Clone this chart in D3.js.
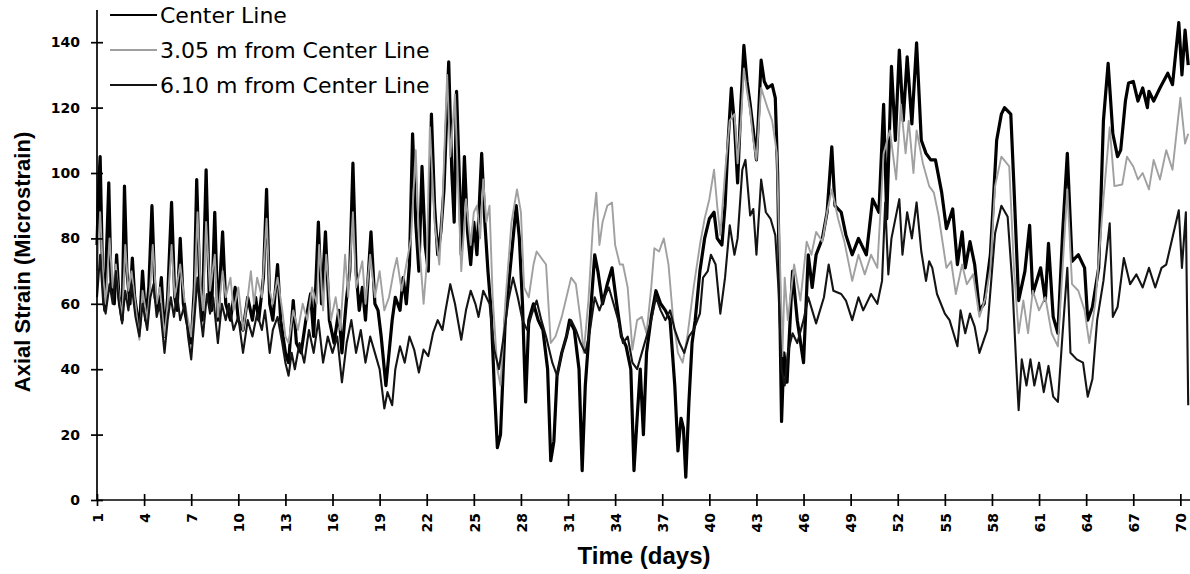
<!DOCTYPE html>
<html>
<head>
<meta charset="utf-8">
<script src="https://cdn.jsdelivr.net/npm/d3@7"></script>
<style>
  body { margin: 0; background: #fff; }
  svg { display: block; }
  .tick text { font-family: "DejaVu Sans", sans-serif; font-weight: bold; font-size: 14px; fill: #000; }
  .axis path, .axis line { stroke: #000; stroke-width: 1.7; }
</style>
</head>
<body>
<svg width="1190" height="574"></svg>
<script>
// values: [day, microstrain]
var centerLine = [
  [1.0, 78], [1.1, 95], [1.2, 105], [1.35, 70], [1.5, 58], [1.6, 75], [1.75, 97], [1.9, 65], [2.1, 60], [2.25, 75],
  [2.4, 62], [2.6, 55], [2.75, 96], [2.9, 70], [3.1, 60], [3.25, 74], [3.4, 62], [3.7, 52], [3.9, 70], [4.1, 55],
  [4.3, 65], [4.5, 90], [4.7, 62], [4.9, 58], [5.1, 68], [5.3, 50], [5.5, 62], [5.75, 91], [5.95, 62], [6.1, 58],
  [6.3, 80], [6.5, 60], [6.7, 55], [7.0, 48], [7.2, 65], [7.35, 98], [7.55, 65], [7.7, 55], [7.95, 101], [8.15, 62],
  [8.3, 58], [8.5, 88], [8.7, 55], [9.0, 82], [9.2, 60], [9.5, 55], [9.8, 65], [10.0, 55], [10.3, 52], [10.6, 62],
  [10.9, 55], [11.1, 62], [11.3, 55], [11.6, 68], [11.8, 95], [12.0, 60], [12.2, 55], [12.5, 72], [12.7, 55], [13.0, 45],
  [13.2, 42], [13.5, 61], [13.7, 48], [14.0, 45], [14.3, 55], [14.6, 63], [14.8, 50], [15.1, 85], [15.3, 60], [15.55, 82],
  [15.8, 55], [16.1, 48], [16.4, 58], [16.6, 45], [16.9, 62], [17.1, 70], [17.3, 103], [17.5, 70], [17.7, 58], [17.9, 65],
  [18.1, 55], [18.45, 82], [18.7, 60], [18.9, 58], [19.1, 50], [19.4, 35], [19.6, 45], [19.8, 55], [20.0, 62], [20.3, 58],
  [20.5, 68], [20.7, 60], [20.9, 72], [21.1, 112], [21.3, 85], [21.5, 70], [21.7, 102], [21.9, 78], [22.1, 70], [22.3, 118],
  [22.5, 90], [22.7, 75], [22.9, 82], [23.1, 95], [23.4, 134], [23.6, 100], [23.75, 85], [23.9, 125], [24.1, 95], [24.2, 75],
  [24.4, 105], [24.6, 82], [24.8, 72], [25.0, 85], [25.2, 75], [25.5, 106], [25.7, 85], [25.9, 70], [26.1, 58], [26.3, 35],
  [26.5, 16], [26.7, 20], [27.0, 55], [27.3, 70], [27.7, 90], [27.9, 80], [28.1, 60], [28.3, 30], [28.5, 55], [28.8, 60],
  [29.1, 55], [29.4, 52], [29.7, 40], [29.9, 12], [30.1, 18], [30.3, 38], [30.6, 45], [30.9, 50], [31.1, 55], [31.4, 52],
  [31.7, 40], [31.9, 9], [32.1, 35], [32.4, 55], [32.7, 75], [32.9, 70], [33.2, 60], [33.5, 66], [33.8, 71], [34.1, 60],
  [34.4, 50], [34.7, 47], [35.0, 40], [35.2, 9], [35.4, 25], [35.6, 40], [35.8, 20], [36.0, 45], [36.3, 56], [36.6, 64],
  [36.9, 60], [37.2, 58], [37.5, 55], [37.8, 35], [38.0, 15], [38.2, 25], [38.35, 22], [38.5, 7], [38.7, 30], [38.9, 48],
  [39.1, 55], [39.4, 70], [39.7, 80], [40.0, 86], [40.3, 88], [40.5, 80], [40.8, 78], [41.0, 90], [41.2, 110], [41.4, 126],
  [41.6, 115], [41.8, 97], [42.0, 120], [42.2, 139], [42.4, 128], [42.6, 121], [42.8, 113], [43.0, 104], [43.3, 134.5], [43.5, 128],
  [43.7, 126], [44.0, 127], [44.2, 123], [44.35, 100], [44.45, 70], [44.6, 24], [44.75, 45], [44.95, 36], [45.3, 70], [45.6, 55],
  [46.0, 42], [46.3, 75], [46.55, 65], [46.8, 75], [47.2, 80], [47.5, 88], [47.8, 108], [48.0, 90], [48.4, 88], [48.7, 81],
  [49.1, 75], [49.5, 80], [50.0, 75], [50.4, 92], [50.8, 88], [51.1, 121], [51.3, 86], [51.6, 132.6], [51.85, 110], [52.1, 137.6],
  [52.35, 116], [52.6, 135.5], [52.9, 115], [53.2, 139.8], [53.5, 110], [53.8, 106], [54.1, 104], [54.4, 104], [54.8, 94], [55.1, 83],
  [55.5, 89], [55.8, 72], [56.1, 82], [56.3, 71], [56.6, 79], [56.9, 72], [57.2, 58], [57.5, 60], [57.9, 75], [58.3, 110],
  [58.6, 118], [58.8, 120], [59.2, 118], [59.4, 96], [59.7, 61], [60.1, 70], [60.4, 84], [60.6, 63], [61.1, 71], [61.4, 61],
  [61.6, 78.5], [61.9, 56], [62.2, 51], [62.5, 81.6], [62.8, 106], [63.1, 73], [63.5, 75], [63.9, 71], [64.1, 55], [64.4, 59],
  [64.8, 71], [65.1, 116], [65.4, 133.5], [65.7, 112], [66.0, 105], [66.2, 107], [66.5, 122], [66.7, 127.5], [67.0, 128], [67.3, 122],
  [67.6, 126], [67.9, 120], [68.0, 125], [68.3, 122], [68.7, 126], [69.2, 130.5], [69.5, 127], [69.9, 146], [70.1, 130], [70.3, 143.7],
  [70.5, 133]
];

var offset305 = [
  [1.0, 70], [1.2, 88], [1.4, 68], [1.55, 60], [1.8, 80], [2.0, 65], [2.2, 72], [2.4, 62], [2.6, 56], [2.8, 78],
  [3.0, 64], [3.2, 70], [3.45, 60], [3.7, 49], [3.9, 64], [4.2, 55], [4.4, 66], [4.55, 78], [4.8, 60], [5.0, 65],
  [5.3, 50], [5.5, 60], [5.75, 78], [5.95, 62], [6.1, 66], [6.3, 72], [6.6, 60], [6.8, 55], [7.0, 50], [7.2, 62],
  [7.4, 88], [7.6, 65], [7.75, 58], [7.95, 85], [8.2, 64], [8.5, 75], [8.7, 56], [9.0, 70], [9.2, 62], [9.5, 68],
  [9.7, 58], [10.0, 65], [10.3, 52], [10.6, 62], [10.8, 70], [11.0, 60], [11.2, 68], [11.5, 62], [11.8, 86], [12.0, 64],
  [12.2, 60], [12.5, 68], [12.8, 58], [13.0, 50], [13.2, 48], [13.5, 58], [13.8, 52], [14.1, 60], [14.4, 55], [14.7, 65],
  [15.0, 60], [15.15, 78], [15.4, 58], [15.6, 75], [15.9, 55], [16.2, 62], [16.5, 52], [16.8, 75], [17.0, 62], [17.3, 88],
  [17.5, 65], [17.9, 73], [18.1, 60], [18.4, 75], [18.7, 62], [19.0, 70], [19.3, 58], [19.6, 62], [19.9, 70], [20.1, 74],
  [20.4, 64], [20.7, 72], [21.0, 80], [21.3, 107], [21.5, 80], [21.8, 60], [22.0, 72], [22.2, 114], [22.5, 85], [22.8, 72],
  [23.0, 90], [23.3, 130], [23.5, 105], [23.8, 124], [24.0, 96], [24.2, 70], [24.5, 92], [24.8, 78], [25.0, 88], [25.2, 90],
  [25.4, 80], [25.6, 98], [25.8, 85], [26.0, 90], [26.2, 62], [26.5, 40], [26.7, 35], [27.0, 60], [27.4, 85], [27.75, 95],
  [28.0, 88], [28.2, 65], [28.5, 62], [28.8, 72], [29.0, 76], [29.3, 74], [29.6, 72], [29.9, 48], [30.2, 50], [30.6, 56],
  [30.9, 62], [31.2, 68], [31.5, 66], [31.8, 55], [32.0, 45], [32.3, 61], [32.6, 85], [32.8, 94], [33.0, 78], [33.2, 85],
  [33.5, 90], [33.8, 91], [34.0, 78], [34.3, 72], [34.5, 72], [34.8, 65], [35.1, 46], [35.4, 55], [35.7, 56], [36.0, 51],
  [36.3, 65], [36.5, 77], [36.8, 76], [37.1, 80], [37.4, 72], [37.7, 55], [38.0, 45], [38.3, 42], [38.6, 50], [39.0, 65],
  [39.4, 78], [39.7, 86], [40.0, 92], [40.3, 101], [40.5, 90], [40.7, 81], [41.0, 100], [41.3, 116], [41.6, 118], [41.8, 103],
  [42.0, 115], [42.2, 132], [42.4, 125], [42.6, 119], [42.8, 110], [43.0, 104], [43.3, 126], [43.7, 120], [44.0, 116], [44.3, 106],
  [44.45, 80], [44.55, 65], [44.65, 44], [44.8, 68], [45.0, 55], [45.4, 72], [45.8, 61], [46.2, 79], [46.5, 75], [46.8, 82],
  [47.2, 79], [47.5, 88], [47.8, 95], [48.2, 86], [48.6, 79], [49.1, 67], [49.5, 75], [49.9, 69], [50.3, 75], [50.7, 71],
  [51.1, 106], [51.5, 113], [51.9, 98], [52.2, 121], [52.5, 106], [52.7, 116], [53.0, 100], [53.2, 113], [53.6, 103], [54.0, 96],
  [54.3, 94], [54.6, 87], [55.1, 71], [55.4, 73], [55.7, 63], [56.1, 72], [56.4, 66], [56.8, 69], [57.2, 56], [57.6, 62],
  [57.9, 71], [58.2, 96], [58.6, 105], [59.1, 102], [59.4, 71], [59.7, 51], [60.0, 61], [60.3, 51], [60.6, 64], [61.0, 58],
  [61.4, 62], [61.8, 51], [62.2, 47], [62.5, 71], [62.8, 95], [63.1, 66], [63.5, 64], [63.9, 58], [64.2, 48], [64.6, 61],
  [65.1, 92], [65.5, 114], [65.8, 96], [66.3, 96.5], [66.6, 105], [67.0, 102], [67.3, 98], [67.6, 100], [68.0, 95], [68.3, 104],
  [68.7, 98], [69.1, 107], [69.5, 101], [70.0, 123], [70.3, 109], [70.5, 112]
];

var offset610 = [
  [1.0, 62], [1.2, 75], [1.4, 60], [1.55, 57], [1.8, 66], [2.0, 60], [2.2, 70], [2.4, 60], [2.6, 54], [2.8, 64],
  [3.0, 58], [3.2, 66], [3.45, 56], [3.7, 50], [3.9, 60], [4.2, 52], [4.4, 62], [4.6, 66], [4.8, 56], [5.0, 60],
  [5.3, 45], [5.5, 55], [5.7, 62], [5.9, 56], [6.1, 63], [6.3, 55], [6.6, 60], [6.8, 50], [7.0, 43], [7.2, 55],
  [7.4, 68], [7.6, 56], [7.75, 50], [8.0, 63], [8.2, 57], [8.4, 62], [8.7, 48], [8.95, 60], [9.2, 55], [9.4, 60],
  [9.7, 52], [10.0, 56], [10.3, 45], [10.6, 55], [10.9, 50], [11.2, 57], [11.5, 52], [11.7, 58], [12.0, 45], [12.2, 52],
  [12.5, 56], [12.8, 48], [13.0, 42], [13.2, 38], [13.4, 45], [13.6, 40], [13.9, 48], [14.2, 42], [14.5, 52], [14.8, 45],
  [15.1, 55], [15.4, 42], [15.7, 50], [16.0, 45], [16.3, 50], [16.6, 36], [16.9, 48], [17.2, 55], [17.5, 45], [17.8, 52],
  [18.1, 42], [18.4, 50], [18.7, 45], [19.0, 40], [19.3, 28], [19.5, 33], [19.8, 29], [20.0, 40], [20.3, 47], [20.6, 42],
  [20.9, 50], [21.2, 46], [21.5, 39], [21.8, 46], [22.1, 44], [22.4, 51], [22.7, 55], [23.0, 52], [23.2, 58], [23.5, 66],
  [23.8, 60], [24.2, 49], [24.5, 58], [24.8, 64], [25.1, 60], [25.3, 56], [25.6, 64], [26.0, 60], [26.3, 46], [26.6, 40],
  [26.9, 50], [27.2, 61], [27.5, 68], [27.8, 62], [28.1, 55], [28.4, 52], [28.7, 57], [29.0, 61], [29.3, 55], [29.6, 50],
  [30.0, 42], [30.3, 38], [30.6, 45], [30.9, 50], [31.2, 55], [31.5, 52], [31.8, 48], [32.1, 45], [32.4, 52], [32.7, 62],
  [33.0, 58], [33.3, 62], [33.6, 65], [33.9, 60], [34.2, 55], [34.5, 48], [34.8, 50], [35.1, 42], [35.4, 40], [35.7, 45],
  [36.0, 50], [36.3, 55], [36.6, 62], [36.9, 58], [37.2, 55], [37.5, 58], [37.8, 52], [38.1, 48], [38.4, 45], [38.7, 50],
  [39.0, 52], [39.4, 57], [39.6, 68], [39.9, 70], [40.1, 75], [40.4, 72], [40.7, 57], [41.0, 68], [41.3, 84], [41.6, 75],
  [41.8, 80], [42.1, 101], [42.3, 104], [42.6, 87], [42.8, 89], [43.0, 75], [43.3, 98], [43.6, 88], [43.9, 86], [44.2, 81],
  [44.4, 65], [44.6, 40], [44.8, 35], [45.0, 45], [45.3, 51], [45.6, 48], [46.0, 55], [46.3, 62], [46.8, 54], [47.3, 62],
  [47.6, 72], [47.9, 64], [48.4, 63], [48.7, 61], [49.1, 55], [49.5, 62], [49.8, 58], [50.3, 63], [50.7, 60], [51.0, 67],
  [51.2, 91], [51.4, 69], [51.6, 80], [52.1, 92], [52.3, 75], [52.6, 88], [52.9, 80], [53.2, 91], [53.5, 76], [53.8, 67],
  [54.0, 73], [54.2, 71], [54.5, 63], [55.0, 57], [55.3, 55], [55.8, 47], [56.0, 58], [56.3, 51], [56.6, 57], [56.9, 53],
  [57.2, 45], [57.7, 52], [58.2, 81.6], [58.6, 90], [59.0, 86.6], [59.3, 66], [59.55, 41], [59.7, 27.5], [59.9, 43], [60.2, 35],
  [60.45, 43], [60.7, 35], [61.0, 42], [61.3, 33], [61.6, 41], [61.9, 31.6], [62.2, 30], [62.5, 51], [62.8, 71], [63.0, 45],
  [63.4, 43], [63.8, 42], [64.1, 31.6], [64.4, 37], [64.7, 55], [65.1, 67], [65.5, 84.6], [65.7, 56], [66.0, 59], [66.4, 74],
  [66.8, 66], [67.2, 69], [67.6, 65], [68.0, 71], [68.4, 65], [68.8, 71], [69.1, 72], [69.9, 88.6], [70.1, 71], [70.35, 88],
  [70.5, 29]
];

var xTicks = [1, 4, 7, 10, 13, 16, 19, 22, 25, 28, 31, 34, 37, 40, 43, 46, 49, 52, 55, 58, 61, 64, 67, 70];
var yTicks = [0, 20, 40, 60, 80, 100, 120, 140];

var seriesNames = ["Center Line", "3.05 m from Center Line", "6.10 m from Center Line"];

var svg = d3.select("svg");

var x = d3.scaleLinear().domain([1, 70.55]).range([97, 1189]);
var y = d3.scaleLinear().domain([0, 150]).range([500, 9.5]);

// series styles, drawn in the order Excel would
var series = [
  {name: seriesNames[0], data: centerLine, color: "#000", width: 3.2},
  {name: seriesNames[1], data: offset305, color: "#a0a0a0", width: 1.9},
  {name: seriesNames[2], data: offset610, color: "#141414", width: 2.1}
];

var line = d3.line()
  .x(function(d) { return x(d[0]); })
  .y(function(d) { return y(d[1]); });

svg.append("g").selectAll("path")
  .data(series)
  .enter()
  .append("path")
  .attr("fill", "none")
  .attr("stroke", function(d) { return d.color; })
  .attr("stroke-width", function(d) { return d.width; })
  .attr("stroke-linejoin", "round")
  .attr("d", function(d) { return line(d.data); });

// y axis with cross ticks
var yAxis = svg.append("g")
  .attr("class", "axis")
  .attr("transform", "translate(97,0)")
  .call(d3.axisLeft(y).tickValues(yTicks).tickSizeOuter(0).tickSizeInner(6).tickPadding(11));
yAxis.select(".domain").attr("d", "M0," + y(0) + "V10");
yAxis.selectAll(".tick line").attr("x1", -6).attr("x2", 6);

// x axis with cross ticks and rotated labels
var xAxis = svg.append("g")
  .attr("class", "axis")
  .attr("transform", "translate(0,500)")
  .call(d3.axisBottom(x).tickValues(xTicks).tickSizeOuter(0).tickSizeInner(6).tickFormat(d3.format("d")));
xAxis.select(".domain").attr("d", "M97,0H1190");
xAxis.selectAll(".tick line").attr("y1", -6).attr("y2", 6);
xAxis.selectAll(".tick text")
  .attr("transform", "rotate(-90)")
  .attr("x", -13)
  .attr("y", 0)
  .attr("dy", "0.37em")
  .style("text-anchor", "end");

// axis titles
svg.append("text")
  .attr("x", 644)
  .attr("y", 564)
  .attr("text-anchor", "middle")
  .style("font-family", "Liberation Sans, Arial, sans-serif")
  .style("font-weight", "bold")
  .style("font-size", "24px")
  .text("Time (days)");

svg.append("text")
  .attr("transform", "translate(30,262) rotate(-90)")
  .attr("text-anchor", "middle")
  .style("font-family", "Liberation Sans, Arial, sans-serif")
  .style("font-weight", "bold")
  .style("font-size", "22px")
  .text("Axial Strain (Microstrain)");

// legend
var legend = svg.append("g").selectAll("g")
  .data(series)
  .enter()
  .append("g")
  .attr("transform", function(d, i) { return "translate(110," + (15 + i * 35) + ")"; });

legend.append("line")
  .attr("x1", 0).attr("x2", 47)
  .attr("stroke", function(d) { return d.color; })
  .attr("stroke-width", function(d, i) { return i == 0 ? 2.2 : 1.8; });

legend.append("text")
  .attr("x", 50)
  .attr("y", 8)
  .style("font-family", "DejaVu Sans, sans-serif")
  .style("font-size", "22px")
  .text(function(d) { return d.name; });
</script>
</body>
</html>
